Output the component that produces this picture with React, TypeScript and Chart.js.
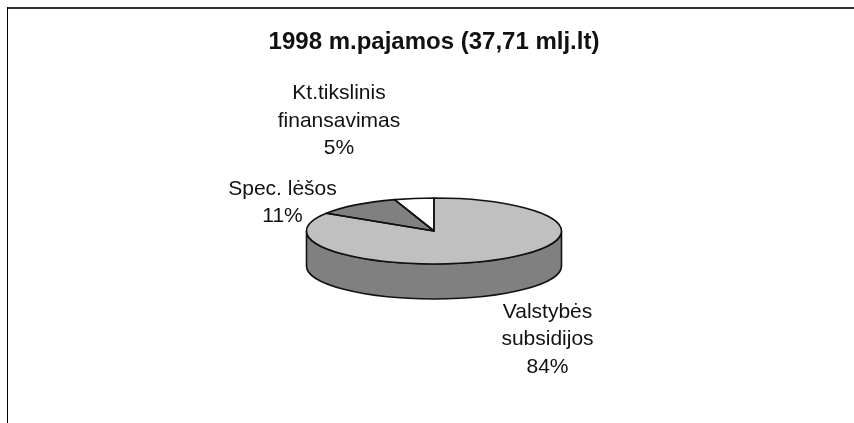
import React, { useEffect, useRef } from "react";
import { Chart, registerables } from "chart.js";

Chart.register(...registerables);

const chartTitle = "1998 m.pajamos (37,71 mlj.lt)";
const categoryLines = [
  ["Valstybės", "subsidijos"],
  ["Spec. lėšos"],
  ["Kt.tikslinis", "finansavimas"],
];
const shares = [84, 11, 5];
const sliceColors = ["#c0c0c0", "#808080", "#ffffff"];

const SIDE_COLOR = "#808080";
const OUTLINE = "#111111";
const FONT = '"Liberation Sans", Arial, sans-serif';
const PIE_CENTER_Y = 231;
const PIE_RADIUS_X = 127.5;
const PIE_RADIUS_Y = 33;
const PIE_DEPTH = 35;
// Text-block placement for each category: centre x, first line y.
const labelAnchors = [
  { x: 547.5, y: 312 },
  { x: 282.5, y: 189 },
  { x: 339, y: 93.5 },
];

const pie3dPlugin = {
  id: "pie3d",
  beforeDatasetsDraw(chart: any) {
    const ctx = chart.ctx;
    const arc = chart.getDatasetMeta(0).data[0];
    const cx = arc.x;
    const y0 = PIE_CENTER_Y;
    ctx.save();
    ctx.beginPath();
    ctx.ellipse(cx, y0, PIE_RADIUS_X, PIE_RADIUS_Y, 0, Math.PI, 0, true);
    ctx.lineTo(cx + PIE_RADIUS_X, y0 + PIE_DEPTH);
    ctx.ellipse(cx, y0 + PIE_DEPTH, PIE_RADIUS_X, PIE_RADIUS_Y, 0, 0, Math.PI, false);
    ctx.closePath();
    ctx.fillStyle = SIDE_COLOR;
    ctx.fill();
    ctx.strokeStyle = OUTLINE;
    ctx.lineWidth = 1.6;
    ctx.stroke();
    ctx.restore();

    ctx.save();
    ctx.translate(cx, y0);
    ctx.scale(1, PIE_RADIUS_Y / arc.outerRadius);
    ctx.translate(-cx, -arc.y);
  },
  afterDatasetsDraw(chart: any) {
    const ctx = chart.ctx;
    ctx.restore();
    const arcs = chart.getDatasetMeta(0).data;
    ctx.save();
    ctx.strokeStyle = OUTLINE;
    ctx.lineWidth = 1.6;
    ctx.lineJoin = "round";
    arcs.forEach((arc: any) => {
      ctx.beginPath();
      ctx.moveTo(arc.x, PIE_CENTER_Y);
      ctx.ellipse(arc.x, PIE_CENTER_Y, PIE_RADIUS_X, PIE_RADIUS_Y, 0, arc.startAngle, arc.endAngle);
      ctx.closePath();
      ctx.stroke();
    });
    ctx.restore();

    ctx.save();
    ctx.fillStyle = "#111111";
    ctx.font = `21px ${FONT}`;
    ctx.textAlign = "center";
    ctx.textBaseline = "middle";
    categoryLines.forEach((lines, i) => {
      const rows = [...lines, `${shares[i]}%`];
      rows.forEach((row, r) => {
        ctx.fillText(row, labelAnchors[i].x, labelAnchors[i].y + r * 27.4);
      });
    });
    ctx.restore();
  },
  afterDraw(chart: any) {
    const ctx = chart.ctx;
    ctx.save();
    ctx.fillStyle = "#333333";
    ctx.fillRect(7, 7, chart.width - 7, 2);
    ctx.fillStyle = "#000000";
    ctx.fillRect(7, 7, 1, chart.height - 7);
    ctx.restore();
  },
};

export default function App() {
  const ref = useRef<HTMLCanvasElement>(null);
  useEffect(() => {
    const chart = new Chart(ref.current!, {
      type: "pie",
      data: {
        labels: categoryLines.map((l) => l.join(" ")),
        datasets: [
          {
            data: shares,
            backgroundColor: sliceColors,
            borderWidth: 0,
            radius: PIE_RADIUS_X,
          },
        ],
      },
      options: {
        responsive: false,
        animation: false,
        layout: { padding: { left: 14 } },
        plugins: {
          legend: { display: false },
          tooltip: { enabled: false },
          title: {
            display: true,
            text: chartTitle,
            color: "#111111",
            font: { family: FONT, size: 24, weight: "bold" },
            padding: { top: 28, bottom: 10 },
          },
        },
      },
      plugins: [pie3dPlugin],
    } as any);
    return () => chart.destroy();
  }, []);
  return (
    <canvas
      ref={ref}
      width={854}
      height={423}
      style={{ position: "fixed", left: 0, top: 0, width: 854, height: 423, display: "block", background: "#fff" }}
    />
  );
}
